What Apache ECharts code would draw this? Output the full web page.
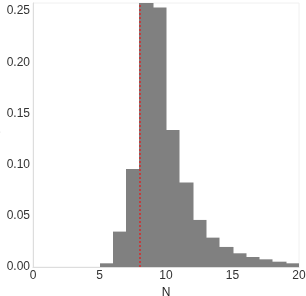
<!DOCTYPE html>
<html><head><meta charset="utf-8">
<script src="https://cdn.jsdelivr.net/npm/echarts@6/dist/echarts.min.js"></script>
<style>html,body{margin:0;padding:0;background:#fff}#c{width:306px;height:296px}</style>
</head><body><div id="c"></div>
<script>
const binStarts = [5,6,7,8,9,10,11,12,13,14,15,16,17,18,19];
const probs = [0.0036,0.0346,0.0958,0.262,0.2536,0.134,0.0827,0.046,0.0287,0.0196,0.0134,0.0098,0.0075,0.0052,0.0036];
const xTicks = [0,5,10,15,20];
const yTicks = [0,0.05,0.10,0.15,0.20,0.25];
const markN = 8;

const chart = echarts.init(document.getElementById('c'));
const font = 'Liberation Sans, Arial, sans-serif';
chart.setOption({
  animation:false,
  grid:{left:33,right:7,top:3,bottom:29,containLabel:false,outerBoundsMode:'none',
    show:true,borderColor:'#f0f0f0',borderWidth:1},
  xAxis:{type:'value',min:0,max:20,interval:5,name:'N',nameLocation:'middle',nameGap:14,
    nameTextStyle:{color:'#222',fontSize:12,fontFamily:font},
    axisLine:{show:true,lineStyle:{color:'#ddd'}},axisTick:{show:false},splitLine:{show:false},
    axisLabel:{color:'#333',fontSize:12,fontFamily:font,margin:3}},
  yAxis:{type:'value',min:0,max:0.258,interval:0.05,name:'P',nameLocation:'middle',nameGap:29,nameRotate:0,
    nameTextStyle:{color:'#222',fontSize:12,fontFamily:font},
    axisLine:{show:true,lineStyle:{color:'#ddd'}},axisTick:{show:false},splitLine:{show:false},
    axisLabel:{color:'#333',fontSize:12,fontFamily:font,margin:3,
      formatter:v=>yTicks.some(t=>Math.abs(t-v)<1e-9)?v.toFixed(2):''}},
  series:[{
    type:'custom',
    clip:true,
    data:binStarts.map((s,i)=>[s,s+1,probs[i]]),
    renderItem:function(params,api){
      const p0=api.coord([api.value(0),0]);
      const p1=api.coord([api.value(1),api.value(2)]);
      const x0=Math.round(p0[0]), x1=Math.round(p1[0]);
      const r=echarts.graphic.clipRectByRect({x:x0,y:p1[1],width:x1-x0+0.5,height:p0[1]-p1[1]},
        {x:params.coordSys.x,y:params.coordSys.y,width:params.coordSys.width,height:params.coordSys.height});
      return {type:'rect',shape:r,style:{fill:'#808080'}};
    },
    encode:{x:[0,1],y:2},
    markLine:{silent:true,symbol:'none',label:{show:false},
      lineStyle:{color:'#d62728',type:[2,2],width:1.5},
      data:[{xAxis:markN}]}
  }]
});
</script></body></html>
